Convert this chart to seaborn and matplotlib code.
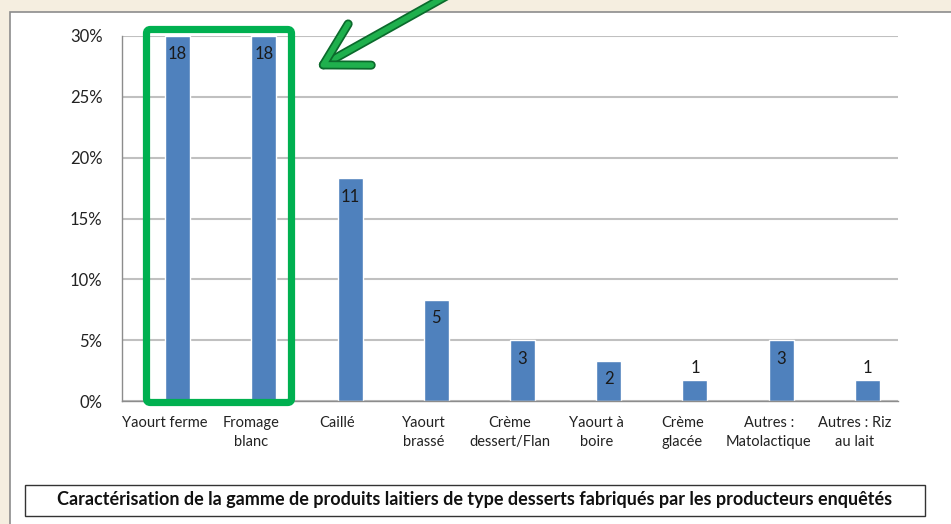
import matplotlib
matplotlib.use("Agg")
import matplotlib.pyplot as plt
import matplotlib.patheffects as pe
import seaborn as sns
import pandas as pd
from matplotlib.patches import Rectangle, FancyBboxPatch, FancyArrowPatch
from matplotlib.transforms import IdentityTransform
from matplotlib.ticker import PercentFormatter

# Data
produits = ["Yaourt ferme", "Fromage\nblanc", "Caillé", "Yaourt\nbrassé",
            "Crème\ndessert/Flan", "Yaourt à\nboire", "Crème\nglacée",
            "Autres :\nMatolactique", "Autres : Riz\nau lait"]
pourcentages = [30, 30, 18.3, 8.3, 5, 3.3, 1.7, 5, 1.7]
effectifs = [18, 18, 11, 5, 3, 2, 1, 3, 1]
titre = ("Caractérisation de la gamme de produits laitiers de type desserts "
         "fabriqués par les producteurs enquêtés")

sns.set_style("white")
plt.rcParams['font.family'] = ['Lato', 'DejaVu Sans']

W, H = 951, 524
fig = plt.figure(figsize=(W / 100, H / 100), dpi=100, facecolor="#f5eee0")


def py(y):
    # pixel row (from top) -> display y (from bottom)
    return H - y


pix = IdentityTransform()

# white chart area with grey frame (behind the axes)
fig.add_artist(Rectangle((10, -10), W + 20, py(12) + 10, transform=pix,
                         facecolor="white", edgecolor="#8c8c8c", lw=1.2,
                         zorder=-5))

ax = fig.add_axes([122 / W, py(401) / H, (898 - 122) / W, (401 - 36) / H])
ax.set_facecolor("none")
df = pd.DataFrame({"produit": produits, "pct": pourcentages})
sns.barplot(data=df, x="produit", y="pct", color="#4F81BD", saturation=1,
            width=0.29, ax=ax)
# Excel draws the bar slightly right of the category centre
for p in ax.patches:
    p.set_x(p.get_x() + 0.145)

ax.set_xlim(-0.5, 8.5)
ax.set_ylim(0, 30)
ax.set_yticks(range(0, 31, 5))
ax.yaxis.set_major_formatter(PercentFormatter(decimals=0))
ax.grid(axis="y", color="#c0c0c0", lw=1.5)
ax.set_axisbelow(True)
for s in ["top", "right"]:
    ax.spines[s].set_visible(False)
for s in ["left", "bottom"]:
    ax.spines[s].set_color("#8c8c8c")
    ax.spines[s].set_linewidth(1.0)
ax.tick_params(axis="y", length=6, color="#8c8c8c", labelsize=12,
               labelcolor="#222222", pad=8)
ax.tick_params(axis="x", which="major", length=0, labelsize=10.5,
               labelcolor="#222222", pad=11)
for lab in ax.get_xticklabels():
    lab.set_linespacing(1.45)
ax.set_xticks([i - 0.5 for i in range(10)], minor=True)
ax.tick_params(axis="x", which="minor", length=5, color="#8c8c8c")
ax.set_xlabel("")
ax.set_ylabel("")

# count labels: inside top of bar, or above when the bar is too short
bars = ax.containers[0]
dedans = [str(n) if n > 1 else "" for n in effectifs]
dessus = [str(n) if n <= 1 else "" for n in effectifs]
ax.bar_label(bars, labels=dedans, padding=-19, fontsize=12, color="#1a1a1a")
ax.bar_label(bars, labels=dessus, padding=3, fontsize=12, color="#1a1a1a")

# caption box
fig.add_artist(Rectangle((25, py(516)), 900, 31, transform=pix,
                         facecolor="white", edgecolor="#333333", lw=1.0,
                         zorder=3))
fig.text(475 / W, py(500) / H, titre, ha="center", va="center",
         fontsize=13, fontweight="bold", color="#111111", zorder=4)

# green highlight box
fig.add_artist(FancyBboxPatch((146.5, py(402.5)), 145, 373, transform=pix,
                              boxstyle="round,pad=0,rounding_size=4",
                              facecolor="none", edgecolor="#00B050", lw=5.2,
                              zorder=5))

# green arrow
arrow = FancyArrowPatch((450, py(-6)), (316, py(69)), transform=pix,
                        arrowstyle="->,head_length=1.5,head_width=0.85",
                        mutation_scale=20, color="#1fb04d", lw=4,
                        capstyle="round", joinstyle="round", zorder=6)
arrow.set_path_effects([pe.Stroke(linewidth=6.5, foreground="#0b6a2c"),
                        pe.Normal()])
fig.add_artist(arrow)

fig.savefig("out.png", dpi=100, facecolor=fig.get_facecolor())
